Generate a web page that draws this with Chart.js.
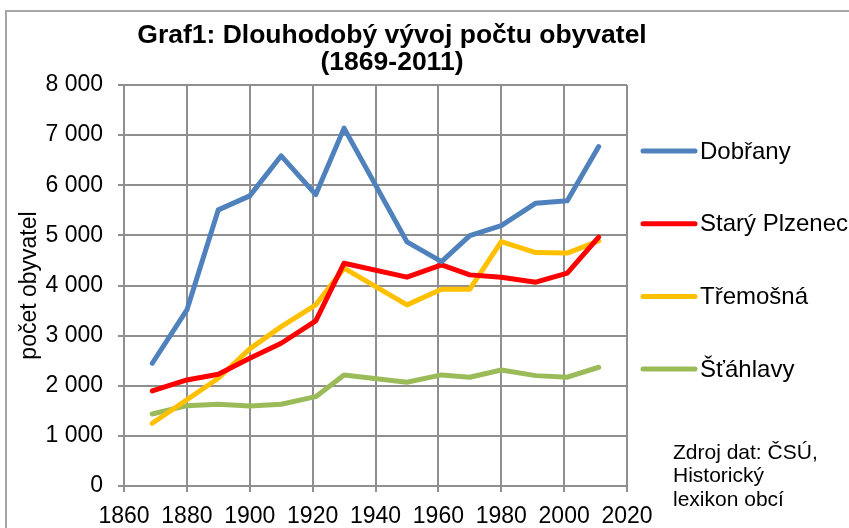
<!DOCTYPE html>
<html lang="cs">
<head>
    <meta charset="UTF-8">
    <title>Graf1: Dlouhodobý vývoj počtu obyvatel</title>
    <script src="https://cdn.jsdelivr.net/npm/chart.js"></script>
    <style>
        body {
            margin: 0;
            background-color: #fff;
            overflow: hidden;
        }
        .frame {
            position: absolute;
            left: 5px;
            top: 10px;
            width: 900px;
            height: 600px;
            border: 2px solid #a6a6a6;
        }
        canvas {
            position: absolute;
            left: 0;
            top: 0;
        }
    </style>
</head>
<body>
    <div class="frame"></div>
    <canvas id="popChart" width="849" height="528"></canvas>

    <script>
        // data
        const years = [1869, 1880, 1890, 1900, 1910, 1921, 1930, 1950, 1961, 1970, 1980, 1991, 2001, 2011];
        const dobrany = [2449, 3513, 5509, 5788, 6587, 5814, 7140, 4870, 4477, 4996, 5196, 5643, 5689, 6772];
        const staryPlzenec = [1896, 2116, 2230, 2549, 2848, 3293, 4445, 4166, 4411, 4212, 4166, 4066, 4246, 4964];
        const tremosna = [1251, 1720, 2150, 2735, 3180, 3613, 4345, 3613, 3926, 3926, 4876, 4657, 4646, 4890];
        const stahlavy = [1437, 1603, 1631, 1597, 1631, 1782, 2216, 2070, 2216, 2170, 2315, 2202, 2170, 2369];

        const seriesNames = ['Dobřany', 'Starý Plzenec', 'Třemošná', 'Šťáhlavy'];
        const seriesColors = ['#4f81bd', '#ff0000', '#ffc000', '#9bbb59'];
        const seriesValues = [dobrany, staryPlzenec, tremosna, stahlavy];

        const titleLines = ['Graf1: Dlouhodobý vývoj počtu obyvatel', '(1869-2011)'];
        const sourceLines = ['Zdroj dat: ČSÚ,', 'Historický', 'lexikon obcí'];

        const fontFamily = '"Liberation Sans", Arial, sans-serif';

        function thousands(v) {
            return String(v).replace(/\B(?=(\d{3})+(?!\d))/g, ' ');
        }

        const datasets = seriesNames.map((name, i) => ({
            label: name,
            data: years.map((y, j) => ({ x: y, y: seriesValues[i][j] })),
            borderColor: seriesColors[i],
            backgroundColor: seriesColors[i],
            borderWidth: 5,
            borderCapStyle: 'round',
            borderJoinStyle: 'round',
            pointRadius: 0,
            tension: 0,
            fill: false
        }));

        // title, legend and source note
        const decor = {
            id: 'decor',
            afterDraw(chart) {
                const ctx = chart.ctx;
                ctx.save();
                ctx.fillStyle = '#000';
                ctx.textBaseline = 'middle';

                ctx.textAlign = 'center';
                ctx.font = 'bold 26.5px ' + fontFamily;
                titleLines.forEach((t, i) => ctx.fillText(t, 392, 36 + i * 27));

                ctx.textAlign = 'left';
                ctx.font = '24px ' + fontFamily;
                chart.data.datasets.forEach((ds, i) => {
                    const y = 151 + i * 72.7;
                    ctx.strokeStyle = ds.borderColor;
                    ctx.lineWidth = 5;
                    ctx.lineCap = 'round';
                    ctx.beginPath();
                    ctx.moveTo(643, y);
                    ctx.lineTo(695, y);
                    ctx.stroke();
                    ctx.fillText(ds.label, 700, y + 1);
                });

                ctx.font = '21px ' + fontFamily;
                sourceLines.forEach((t, i) => ctx.fillText(t, 673, 453 + i * 23.5));
                ctx.restore();
            }
        };

        const gridStyle = {
            color: '#8f8f8f',
            lineWidth: 2,
            tickLength: 6,
            drawTicks: true
        };

        new Chart(document.getElementById('popChart'), {
            type: 'line',
            data: { datasets: datasets },
            options: {
                responsive: false,
                animation: false,
                layout: {
                    padding: { top: 85, right: 222, bottom: 0, left: 0 }
                },
                plugins: {
                    legend: { display: false },
                    title: { display: false },
                    tooltip: { enabled: false }
                },
                scales: {
                    x: {
                        type: 'linear',
                        min: 1860,
                        max: 2020,
                        grid: gridStyle,
                        border: { color: '#8f8f8f', width: 2 },
                        ticks: {
                            stepSize: 20,
                            padding: 11,
                            color: '#000',
                            font: { family: fontFamily, size: 23 },
                            maxRotation: 0,
                            callback: v => String(v)
                        },
                        afterFit(scale) { scale.height = 42; }
                    },
                    y: {
                        min: 0,
                        max: 8000,
                        grid: gridStyle,
                        border: { color: '#8f8f8f', width: 2 },
                        ticks: {
                            stepSize: 1000,
                            padding: 15,
                            color: '#000',
                            font: { family: fontFamily, size: 23 },
                            callback: v => thousands(v)
                        },
                        title: {
                            display: true,
                            text: 'počet obyvatel',
                            color: '#000',
                            font: { family: fontFamily, size: 23 },
                            padding: { top: 16, bottom: 0 }
                        },
                        afterFit(scale) { scale.width = 124; }
                    }
                }
            },
            plugins: [decor]
        });
    </script>
</body>
</html>
